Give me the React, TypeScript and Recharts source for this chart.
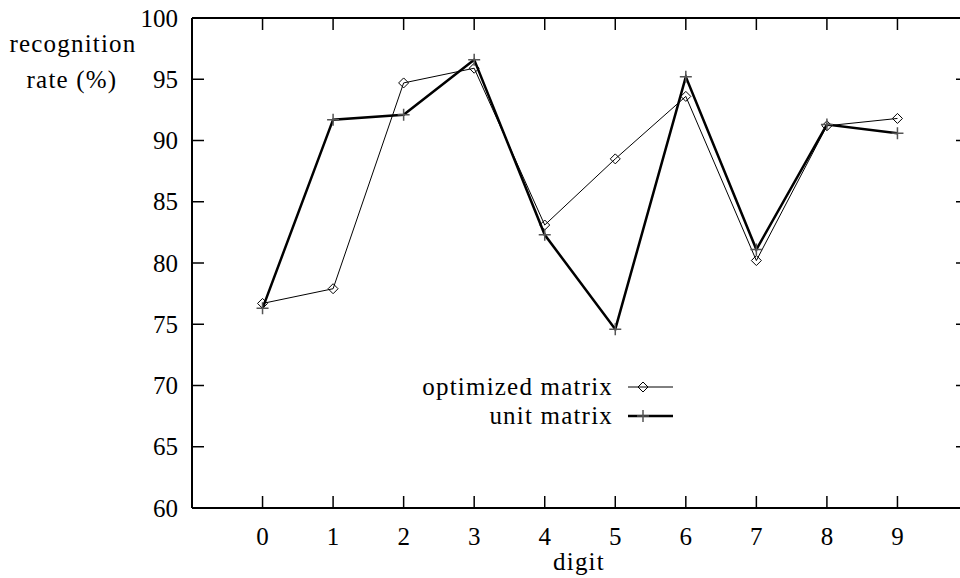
import { LineChart, Line, XAxis, YAxis, ReferenceLine } from 'recharts';

const digits = [0, 1, 2, 3, 4, 5, 6, 7, 8, 9];
const optimizedMatrix = [76.7, 77.9, 94.7, 95.9, 83.1, 88.5, 93.6, 80.2, 91.2, 91.8];
const unitMatrix = [76.3, 91.7, 92.1, 96.6, 82.3, 74.6, 95.2, 81.1, 91.3, 90.6];
const yTicks = [60, 65, 70, 75, 80, 85, 90, 95, 100];
const seriesNames = ['optimized matrix', 'unit matrix'];

const X_DOMAIN = [-1, 10];
const Y_DOMAIN = [60, 100];
const PLOT_W = 776;
const PLOT_H = 490;
const TICK_PX = 12;
const tickDy = (TICK_PX / PLOT_H) * (Y_DOMAIN[1] - Y_DOMAIN[0]);
const tickDx = (TICK_PX / PLOT_W) * (X_DOMAIN[1] - X_DOMAIN[0]);

const data = digits.map((d, i) => ({ digit: d, optimized: optimizedMatrix[i], unit: unitMatrix[i] }));

const SERIF = 'Liberation Serif';
const numStyle = { fontFamily: SERIF, fontSize: 25, fill: '#000' };
const htmlText = { fontFamily: SERIF, fontSize: 25, letterSpacing: 1.2, color: '#000', lineHeight: '25px' };

const LeftTick = ({ x, y, payload }: any) => (
  <g>
    <path d={`M${x},${y}h${TICK_PX}`} stroke="#000" strokeWidth={1.5} />
    <text x={x - 14} y={y + 8.5} textAnchor="end" fontFamily={SERIF} fontSize={25} style={numStyle}>
      {payload.value}
    </text>
  </g>
);
const BottomTick = ({ x, y, payload }: any) => (
  <g>
    <path d={`M${x},${y}v${-TICK_PX}`} stroke="#000" strokeWidth={1.5} />
    <text x={x} y={y + 37} textAnchor="middle" fontFamily={SERIF} fontSize={25} style={numStyle}>
      {payload.value}
    </text>
  </g>
);

const DiamondDot = ({ cx, cy }: any) => (
  <path d={`M${cx},${cy - 5}l5,5l-5,5l-5,-5z`} fill="none" stroke="#000" strokeWidth={1} />
);
const PlusDot = ({ cx, cy }: any) => (
  <path d={`M${cx - 6},${cy}h12M${cx},${cy - 6}v12`} fill="none" stroke="#555" strokeWidth={1.5} />
);

function Overlay({ left, top, children, width = 200 }: any) {
  return (
    <div style={{ position: 'absolute', left, top, width, textAlign: 'center', ...htmlText }}>{children}</div>
  );
}

// inward tick marks on the top and right sides of the frame
const tickSegments = [
  ...digits.map((d) => [{ x: d, y: Y_DOMAIN[1] }, { x: d, y: Y_DOMAIN[1] - tickDy }]),
  ...yTicks.map((v) => [{ x: X_DOMAIN[1], y: v }, { x: X_DOMAIN[1] - tickDx, y: v }]),
];

export default function App() {
  return (
    <div style={{ position: 'absolute', left: 0, top: 0, width: 960, height: 578, overflow: 'hidden', background: '#fff', fontFamily: SERIF }}>
      <LineChart width={980} height={578} data={data} margin={{ top: 0, right: 0, left: 0, bottom: 0 }} style={{ fontFamily: SERIF }}>
        <XAxis dataKey="digit" type="number" domain={X_DOMAIN} ticks={digits} height={70} tickSize={0} tickMargin={0} tickLine={false} tick={<BottomTick />} stroke="#000" strokeWidth={2} allowDataOverflow />
        <XAxis xAxisId="top" orientation="top" dataKey="digit" type="number" domain={X_DOMAIN} ticks={digits} height={18} tickSize={0} tickLine={false} tick={false} stroke="#000" strokeWidth={2} />
        <YAxis type="number" domain={Y_DOMAIN} ticks={yTicks} width={192} tickSize={0} tickMargin={0} tickLine={false} tick={<LeftTick />} stroke="#000" strokeWidth={2} allowDataOverflow />
        <YAxis yAxisId="right" orientation="right" type="number" domain={Y_DOMAIN} ticks={yTicks} width={12} tickSize={0} tickLine={false} tick={false} stroke="#000" strokeWidth={2} />
        {tickSegments.map((seg, i) => (
          <ReferenceLine key={i} segment={seg} stroke="#000" strokeWidth={1.5} ifOverflow="visible" />
        ))}
        <Line dataKey="optimized" name={seriesNames[0]} stroke="#000" strokeWidth={1} dot={<DiamondDot />} activeDot={false} isAnimationActive={false} />
        <Line dataKey="unit" name={seriesNames[1]} stroke="#000" strokeWidth={2.5} dot={<PlusDot />} activeDot={false} isAnimationActive={false} />
      </LineChart>
      <Overlay left={-27} top={31}>recognition</Overlay>
      <Overlay left={-28} top={67}>rate (%)</Overlay>
      <Overlay left={479} top={549}>digit</Overlay>
      <div style={{ position: 'absolute', left: 380, top: 372, width: 300 }}>
        {seriesNames.map((name, i) => (
          <div key={name} style={{ display: 'flex', alignItems: 'center', justifyContent: 'flex-end', height: 29, ...htmlText }}>
            <span>{name}</span>
            <svg width={67} height={20} style={{ display: 'block' }}>
              <path d="M15,10H60" stroke="#000" strokeWidth={i === 0 ? 1 : 2.5} />
              {i === 0 ? <DiamondDot cx={30} cy={10} /> : <PlusDot cx={30} cy={10} />}
            </svg>
          </div>
        ))}
      </div>
    </div>
  );
}
